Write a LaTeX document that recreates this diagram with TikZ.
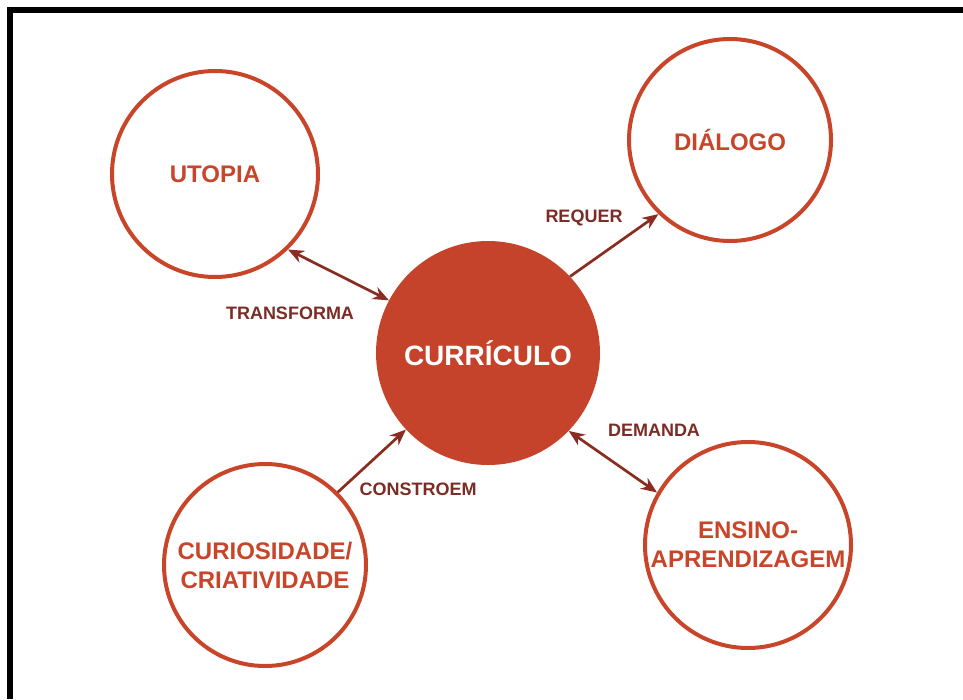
\documentclass[tikz,border=0pt]{standalone}
\usepackage{fontspec}
\setmainfont{Liberation Sans}
\usetikzlibrary{arrows.meta}
\definecolor{ring}{HTML}{C9452A}
\definecolor{core}{HTML}{C5432A}
\definecolor{lbl}{HTML}{7B2C24}
\definecolor{arr}{HTML}{8A2C20}
\tikzset{
  bubble/.style={circle, draw=ring, line width=4pt, fill=white, minimum size=#1, inner sep=0pt,
    text=ring, font=\bfseries\fontsize{24}{29}\selectfont, align=center},
  conn/.style={draw=arr, line width=2.7pt, -{Stealth[length=16pt,width=13pt]}},
  dconn/.style={draw=arr, line width=2.7pt, {Stealth[length=16pt,width=13pt]}-{Stealth[length=16pt,width=13pt]}},
  rel/.style={text=lbl, font=\bfseries\fontsize{18}{20}\selectfont, inner sep=0pt}
}
\begin{document}
\begin{tikzpicture}[x=1pt,y=-1pt]
\useasboundingbox (0,0) rectangle (963,699);
\fill[white] (0,0) rectangle (963,699);
\fill[black] (7,7) rectangle (963,13);
\fill[black] (7,7) rectangle (13,699);
\node[bubble=206pt] (utopia) at (215,174) {UTOPIA};
\node[bubble=202pt] (dialogo) at (730,140) {DIÁLOGO};
\node[circle, fill=core, minimum size=224pt, inner sep=0pt, text=white,
      font=\bfseries\fontsize{28}{32}\selectfont] (curr) at (488,353) {CURRÍCULO};
\node[bubble=202pt] (curio) at (265,565) {CURIOSIDADE/\\CRIATIVIDADE};
\node[bubble=206pt] (ensino) at (748,545) {ENSINO-\\APRENDIZAGEM};
\draw[dconn] (utopia.-46) -- (curr.152);
\draw[conn] (curr.43) -- (dialogo.-134);
\draw[dconn] (curr.-44) -- (ensino.150);
\draw[conn] (curio.45) -- (curr.-137);
\node[rel] (t1) at (290,313) {TRANSFORMA};
\node[rel] (t2) at (584,218) {REQUER};
\node[rel] (t3) at (654,430) {DEMANDA};
\node[rel] (t4) at (418,489) {CONSTROEM};
\end{tikzpicture}
\end{document}
